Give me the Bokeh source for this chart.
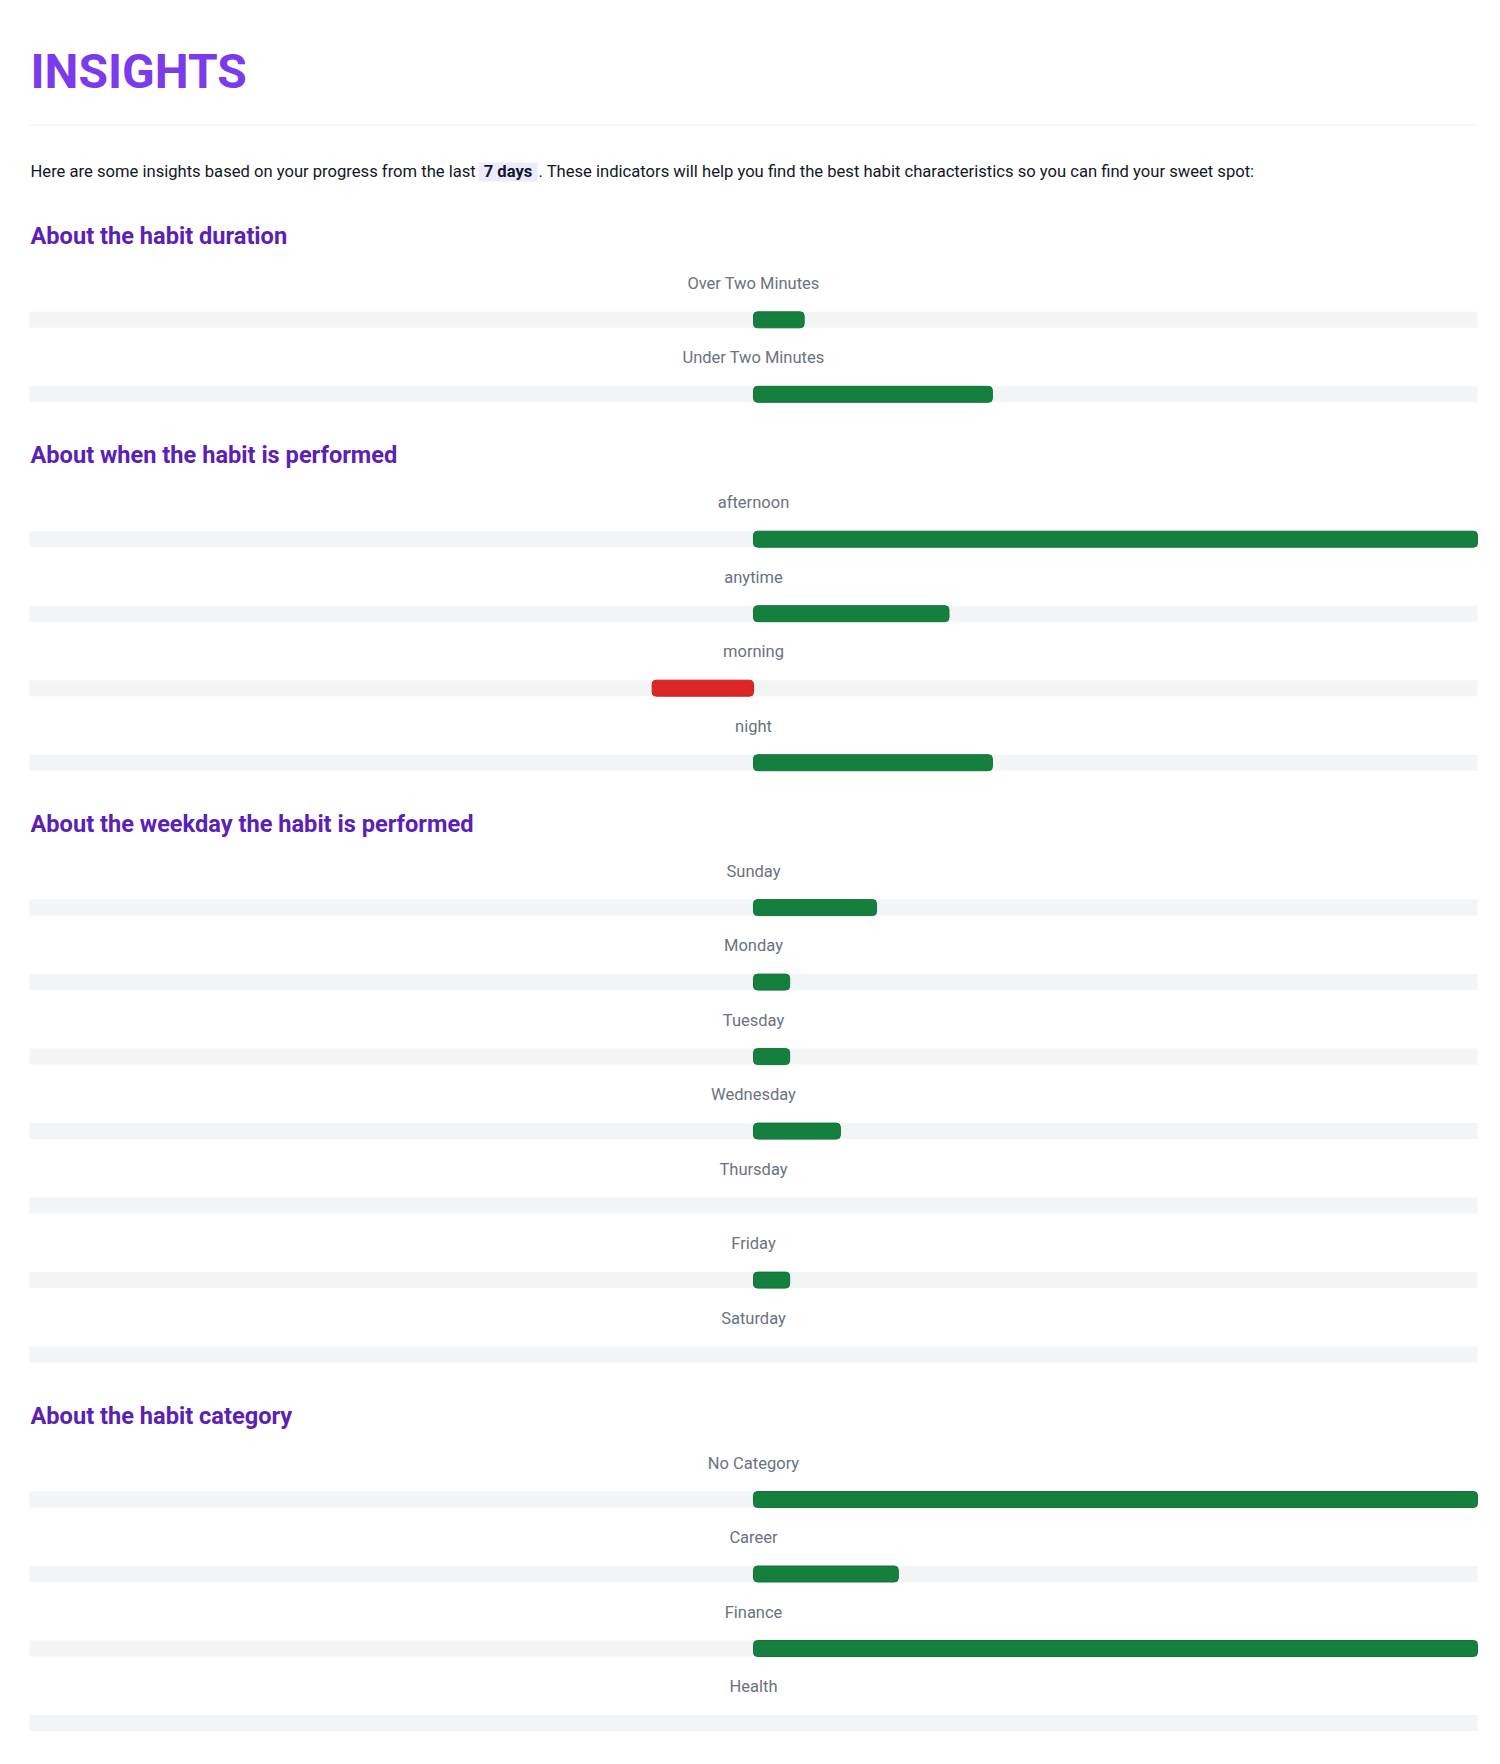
from bokeh.plotting import figure
from bokeh.models import Range1d
from bokeh.core.properties import value
from bokeh.embed import file_html
from bokeh.resources import INLINE

# ---------------- data ----------------
title_text = "INSIGHTS"
intro_before = "Here are some insights based on your progress from the last"
intro_period = "7 days"
intro_after = ". These indicators will help you find the best habit characteristics so you can find your sweet spot:"

section_titles = [
    "About the habit duration",
    "About when the habit is performed",
    "About the weekday the habit is performed",
    "About the habit category",
]

duration_labels = ["Over Two Minutes", "Under Two Minutes"]
duration_values = [7, 33]

time_labels = ["afternoon", "anytime", "morning", "night"]
time_values = [100, 27, -14, 33]

weekday_labels = ["Sunday", "Monday", "Tuesday", "Wednesday", "Thursday", "Friday", "Saturday"]
weekday_values = [17, 5, 5, 12, 0, 5, 0]

category_labels = ["No Category", "Career", "Finance", "Health"]
category_values = [100, 20, 100, 0]

sections = [
    (duration_labels, duration_values),
    (time_labels, time_values),
    (weekday_labels, weekday_values),
    (category_labels, category_values),
]

# ---------------- layout ----------------
W, H = 1490, 1750
TRACK_L, TRACK_R = 29, 1477          # page px of the -100 .. 100 track


def xd(px):
    return -100 + (px - TRACK_L) * 200.0 / (TRACK_R - TRACK_L)


def yd(py):
    return py


p = figure(width=W, height=H, output_backend="svg", toolbar_location=None,
           x_range=Range1d(xd(0), xd(W)), y_range=Range1d(H, 0),
           min_border=0)
p.axis.visible = False
p.grid.visible = False
p.outline_line_color = None
p.background_fill_color = "white"
p.border_fill_color = "white"

BODY = value("Roboto")
HEAD = value("Roboto")
BODY_SIZE = "16.6px"

# title
p.text(x=[xd(30)], y=[yd(71)], text=[title_text], text_font=HEAD,
       text_font_size="48px", text_font_style="bold", text_color="#7c3aed",
       text_baseline="middle", text_align="left")
p.segment(x0=[-100], x1=[100], y0=[yd(124.5)], y1=[yd(124.5)],
          line_color="#f1f1f4", line_width=1)

# intro paragraph
PARA_Y = 171
p.text(x=[xd(30)], y=[yd(PARA_Y)], text=[intro_before], text_font=BODY,
       text_font_size=BODY_SIZE, text_color="#111827",
       text_baseline="middle", text_align="left")
p.quad(left=[xd(478)], right=[xd(537)], top=[yd(162)], bottom=[yd(181)],
       fill_color="#ede9fe", line_color=None)
p.text(x=[xd(507.5)], y=[yd(PARA_Y)], text=[intro_period], text_font=BODY,
       text_font_size=BODY_SIZE, text_font_style="bold", text_color="#111827",
       text_baseline="middle", text_align="center")
p.text(x=[xd(538)], y=[yd(PARA_Y)], text=[intro_after], text_font=BODY,
       text_font_size=BODY_SIZE, text_color="#111827",
       text_baseline="middle", text_align="left")

# rows
head_y, track_y, lab_y, labs = [], [], [], []
bar_y, bar_l, bar_r, bar_c, bar_lc = [], [], [], [], []
y = 245.0   # header baseline
for labels, vals in sections:
    head_y.append(yd(y - 9.5))
    t = y + 74.3
    for i, (lab, v) in enumerate(zip(labels, vals)):
        track_y.append(yd(t))
        lab_y.append(yd(t - 36.5))
        labs.append(lab)
        if v != 0:
            bar_y.append(yd(t))
            bar_l.append(min(0, v))
            bar_r.append(max(0, v))
            bar_c.append("#15803d" if v > 0 else "#dc2626")
            bar_lc.append("#12733a" if v > 0 else "#c92222")
        if i < len(labels) - 1:
            t += 74.5
    y = t + 70.6

p.text(x=[xd(30)] * len(head_y), y=head_y, text=section_titles, text_font=HEAD,
       text_font_size="23.6px", text_font_style="bold", text_color="#5b21b6",
       text_baseline="middle", text_align="left")

p.hbar(y=track_y, left=-100, right=100, height=16, fill_color="#f3f4f6",
       line_color=None)
p.hbar(y=bar_y, left=bar_l, right=bar_r, height=16, fill_color=bar_c,
       line_color=bar_lc, line_width=1, border_radius=4)

p.text(x=[0] * len(labs), y=lab_y, text=labs, text_font=BODY,
       text_font_size="16.5px", text_color="#6b7280",
       text_baseline="middle", text_align="center")

open("out.html", "w").write(file_html(p, INLINE))
